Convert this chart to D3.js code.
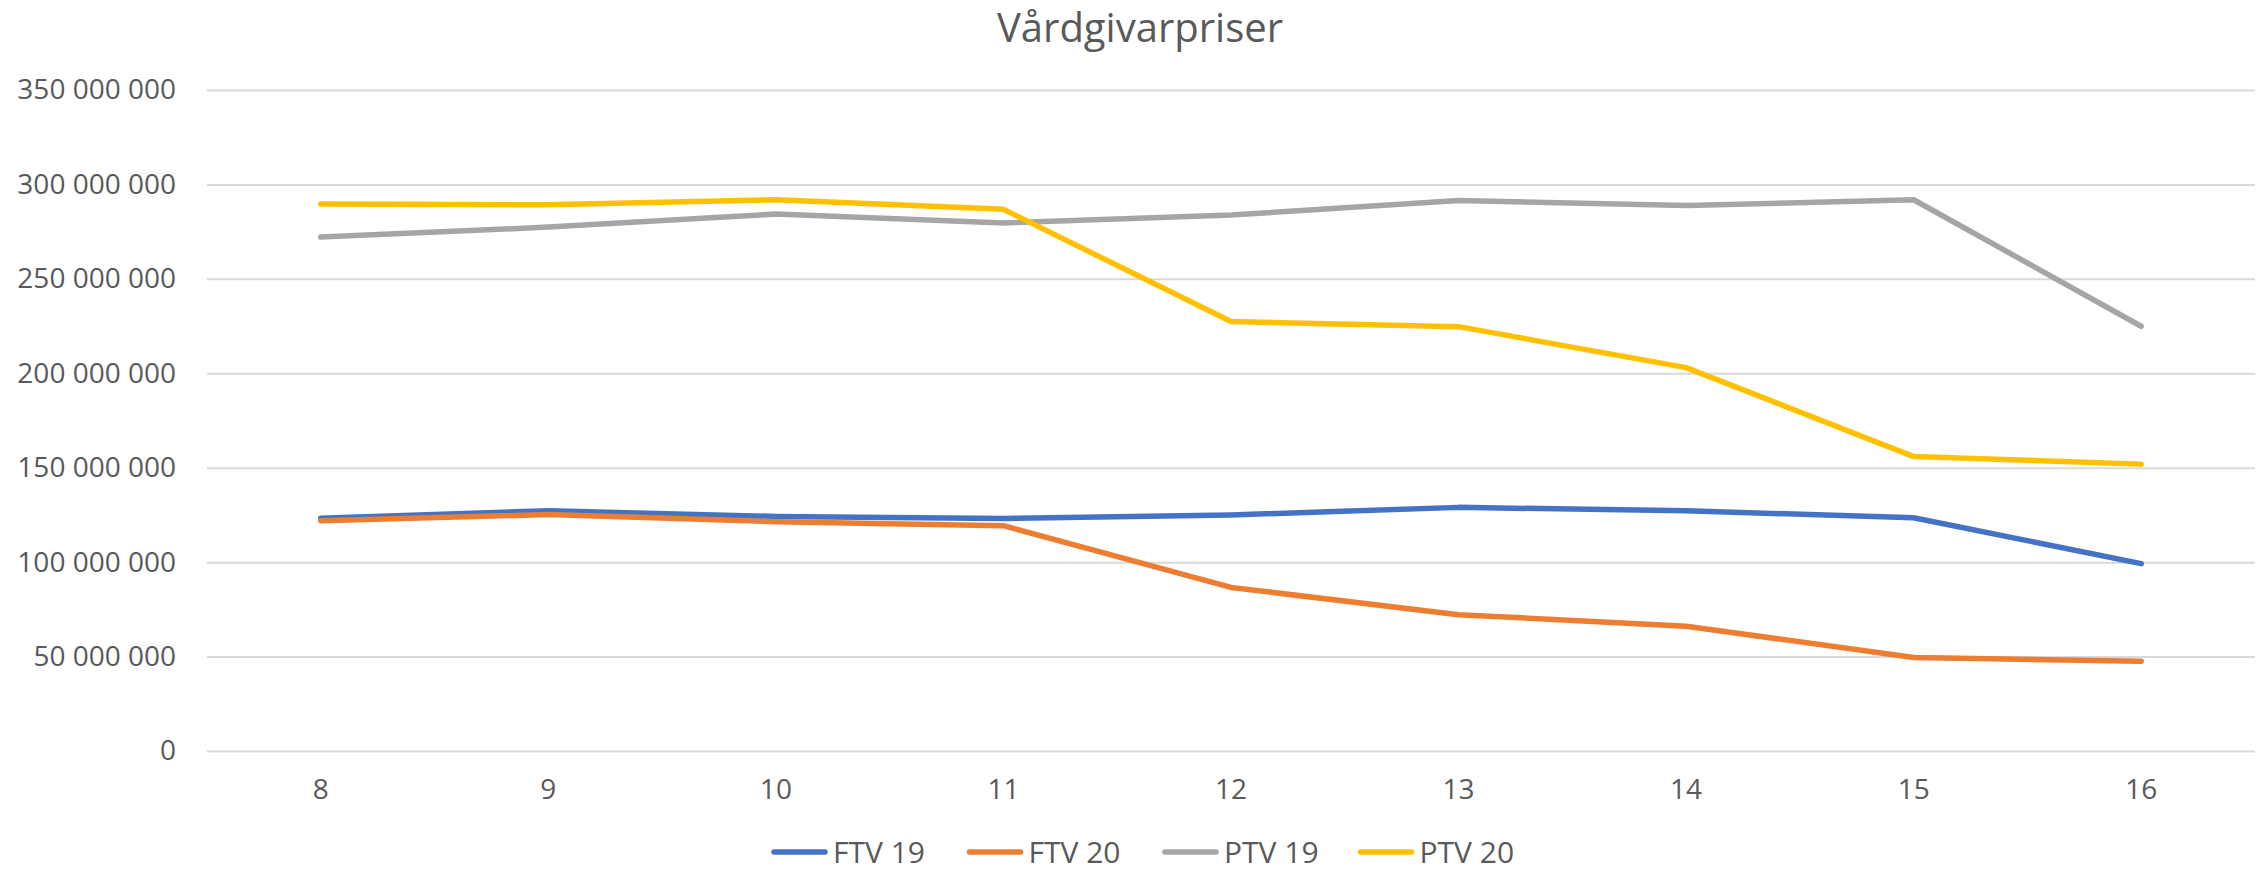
<!DOCTYPE html>
<html>
<head>
<meta charset="utf-8">
<script src="https://cdn.jsdelivr.net/npm/d3@7"></script>
<style>
  body { margin: 0; background: #fff; }
  text { font-family: "Open Sans", sans-serif; fill: #595959; }
</style>
</head>
<body>
<svg id="chart" width="2267" height="873"></svg>
<script>
// data
var weeks = ['8', '9', '10', '11', '12', '13', '14', '15', '16'];
var ftv19 = [123.3, 127.2, 124.2, 123.1, 125.0, 129.0, 127.2, 123.5, 99.2];
var ftv20 = [121.9, 125.2, 121.4, 119.3, 86.6, 72.2, 66.1, 49.5, 47.5];
var ptv19 = [272.1, 277.4, 284.3, 279.6, 283.8, 291.5, 288.8, 291.9, 224.9];
var ptv20 = [289.6, 289.2, 291.9, 286.8, 227.4, 224.7, 203.0, 155.9, 151.9];
var seriesNames = ['FTV 19', 'FTV 20', 'PTV 19', 'PTV 20'];
var seriesColors = ['#4472C4', '#ED7D31', '#A5A5A5', '#FFC000'];
var yTicks = [0, 50, 100, 150, 200, 250, 300, 350]; // millions

var svg = d3.select('#chart');

var plotLeft = 207, plotRight = 2255;
var plotTop = 90, plotBottom = 751;

var x = d3.scaleBand()
  .domain(weeks)
  .range([plotLeft, plotRight])
  .padding(0);

var y = d3.scaleLinear()
  .domain([0, 350e6])
  .range([plotBottom, plotTop]);

var locale = d3.formatLocale({ decimal: ',', thousands: '\u00a0', grouping: [3], currency: ['', ' kr'] });
var fmt = locale.format(',d');

// title
svg.append('text')
  .attr('x', 1140)
  .attr('y', 42)
  .attr('text-anchor', 'middle')
  .style('font-size', '40px')
  .text('Vårdgivarpriser');

// y axis: gridlines + labels
var yAxis = d3.axisLeft(y)
  .tickValues(yTicks.map(function (d) { return d * 1e6; }))
  .tickSize(-(plotRight - plotLeft))
  .tickPadding(31)
  .tickFormat(fmt);

var gy = svg.append('g')
  .attr('transform', 'translate(' + plotLeft + ',0)')
  .call(yAxis);
gy.select('.domain').remove();
gy.selectAll('line').attr('stroke', '#d9d9d9').attr('stroke-width', 2);
gy.selectAll('text')
  .style('font-size', '28px')
  .style('font-family', '"Open Sans", sans-serif')
  .attr('fill', '#595959');

// x axis labels
var xAxis = d3.axisBottom(x).tickSize(0).tickPadding(28);
var gx = svg.append('g')
  .attr('transform', 'translate(0,' + plotBottom + ')')
  .call(xAxis);
gx.select('.domain').remove();
gx.selectAll('text')
  .style('font-size', '28px')
  .style('font-family', '"Open Sans", sans-serif')
  .attr('fill', '#595959');

// lines
var allSeries = [ftv19, ftv20, ptv19, ptv20];
var line = d3.line()
  .x(function (d, i) { return x(weeks[i]) + x.bandwidth() / 2; })
  .y(function (d) { return y(d * 1e6); });

allSeries.forEach(function (s, k) {
  svg.append('path')
    .datum(s)
    .attr('d', line)
    .attr('fill', 'none')
    .attr('stroke', seriesColors[k])
    .attr('stroke-width', 5.5)
    .attr('stroke-linejoin', 'round')
    .attr('stroke-linecap', 'round');
});

// legend
var legendX = 772, legendStep = 195.5, legendY = 852;
var legend = svg.append('g').attr('class', 'legend');
seriesNames.forEach(function (name, k) {
  var lx = legendX + k * legendStep;
  legend.append('line')
    .attr('x1', lx + 2).attr('x2', lx + 53)
    .attr('y1', legendY).attr('y2', legendY)
    .attr('stroke', seriesColors[k])
    .attr('stroke-width', 5.5)
    .attr('stroke-linecap', 'round');
  legend.append('text')
    .attr('x', lx + 61)
    .attr('y', legendY + 11)
    .style('font-size', '30px')
    .text(name);
});
</script>
</body>
</html>
